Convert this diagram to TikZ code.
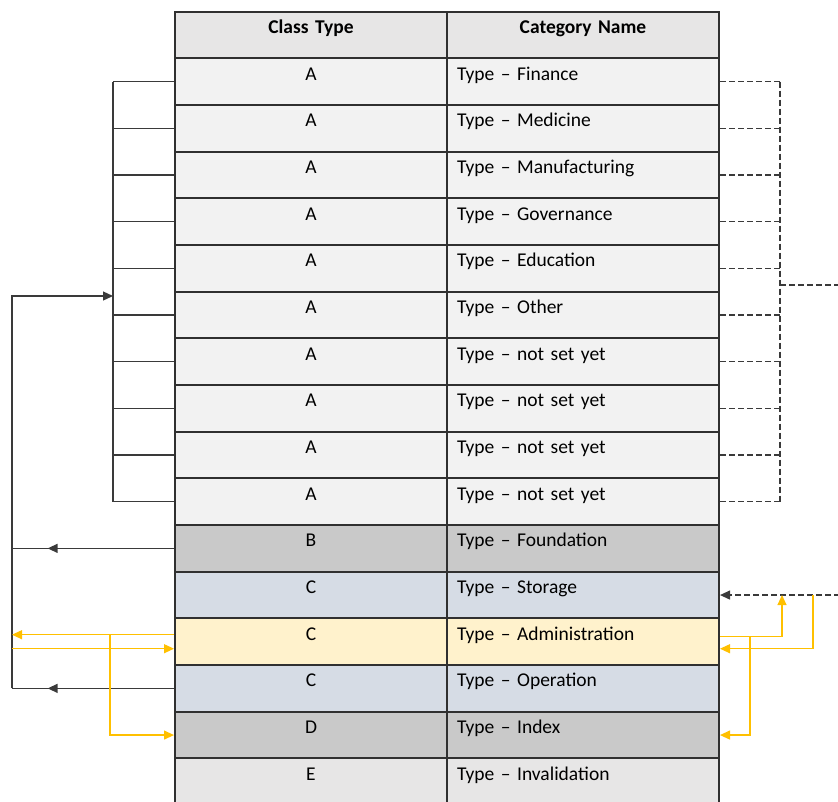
\documentclass[tikz,border=0pt]{standalone}
\usepackage{fontspec}
\setmainfont{Carlito}
\usepackage{tikz}
\usetikzlibrary{arrows.meta,decorations.markings,positioning}

\definecolor{tline}{HTML}{303030}
\definecolor{hdrgray}{HTML}{E7E6E6}
\definecolor{rowA}{HTML}{F2F2F2}
\definecolor{rowB}{HTML}{C9C9C9}
\definecolor{rowC}{HTML}{D6DCE5}
\definecolor{rowY}{HTML}{FFF2CC}
\definecolor{conngray}{HTML}{3A3A3A}
\definecolor{yel}{HTML}{FFC000}

\tikzset{
  cell/.style={draw=tline, line width=2pt, inner ysep=0pt, inner xsep=10pt, text width=252pt,
    text height=21.7pt, text depth=24.97pt, anchor=north west},
  clscell/.style={cell, align=center},
  namecell/.style={cell, align=left},
  hdrcell/.style={cell, align=center, fill=hdrgray, text height=21.3pt, text depth=25.03pt},
  conn/.style={draw=conngray, line width=1.3pt},
  dconn/.style={draw=conngray, line width=1.2pt, dash pattern=on 6pt off 3pt},
  yconn/.style={draw=yel, line width=1.2pt},
  tip/.style={-{Triangle[length=10pt,width=9pt]}},
  midarrow/.style={postaction={decorate}, decoration={markings,
    mark=at position #1 with {\arrow{Triangle[length=10pt,width=9pt]}}}},
}

\begin{document}
\begin{tikzpicture}[x=1pt, y=-1pt, font=\fontsize{19.5}{23}\selectfont]
\useasboundingbox (0,0) rectangle (838,801);
\clip (0,0) rectangle (838,801);

% header
\node[hdrcell] (hc) at (174,11) {\bfseries Class Type};
\node[hdrcell] (hn) at (446,11) {\bfseries Category Name};

% rows
\foreach \i/\cls/\nm/\col in {
  1/A/Finance/rowA, 2/A/Medicine/rowA, 3/A/Manufacturing/rowA, 4/A/Governance/rowA,
  5/A/Education/rowA, 6/A/Other/rowA, 7/A/not set yet/rowA, 8/A/not set yet/rowA,
  9/A/not set yet/rowA, 10/A/not set yet/rowA, 11/B/Foundation/rowB, 12/C/Storage/rowC,
  13/C/Administration/rowY, 14/C/Operation/rowC, 15/D/Index/rowB, 16/E/Invalidation/hdrgray}
{
  \node[clscell, fill=\col] (c\i) at (174,{57.33+(\i-1)*46.67}) {\cls};
  \node[namecell, fill=\col] (n\i) at (446,{57.33+(\i-1)*46.67}) {Type – \nm};
}

\coordinate (lb) at (113,0);
\coordinate (lp) at (12,296);
\coordinate (ly) at (110,0);
\coordinate (rb) at (780,0);
\coordinate (rout) at (840,285);
\coordinate (rin) at (840,593);
\coordinate (ra) at (782,0);
\coordinate (rc) at (813,0);
\coordinate (rd) at (750,0);

% left bracket over the A rows
\foreach \i in {1,...,10}
  \draw[conn] (c\i.west) -- (c\i.west -| lb);
\draw[conn] (c1.west -| lb) -- (c10.west -| lb);

% B and C back to the bracket
\draw[conn, midarrow=0.78] (c11.west) -- (c11.west -| lp);
\draw[conn, midarrow=0.78] (c14.west) -- (c14.west -| lp);
\draw[conn, tip] (c14.west -| lp) -- (lp) -- (lp -| lb);

% right dashed bracket
\foreach \i in {1,...,10}
  \draw[dconn] (n\i.east) -- (n\i.east -| rb);
\draw[dconn] (n1.east -| rb) -- (n10.east -| rb);
\draw[dconn] (rout -| rb) -- (rout);
\draw[dconn, tip] (rin |- n12.east) -- (n12.east);

% administration links
\draw[yconn, tip] ([yshift=7pt]c13.west) -- ([yshift=7pt]c13.west -| lp);
\draw[yconn, tip] ([yshift=-7pt]c13.west -| lp) -- ([yshift=-7pt]c13.west);
\draw[yconn, tip] ([yshift=7pt]c13.west -| ly) |- (c15.west);
\draw[yconn, tip] ([yshift=5pt]n13.east) -| (ra |- n12.east);
\draw[yconn, tip] (rc |- n12.east) |- ([yshift=-7pt]n13.east);
\draw[yconn, tip] ([yshift=5pt]n13.east -| rd) |- (n15.east);
\end{tikzpicture}
\end{document}
